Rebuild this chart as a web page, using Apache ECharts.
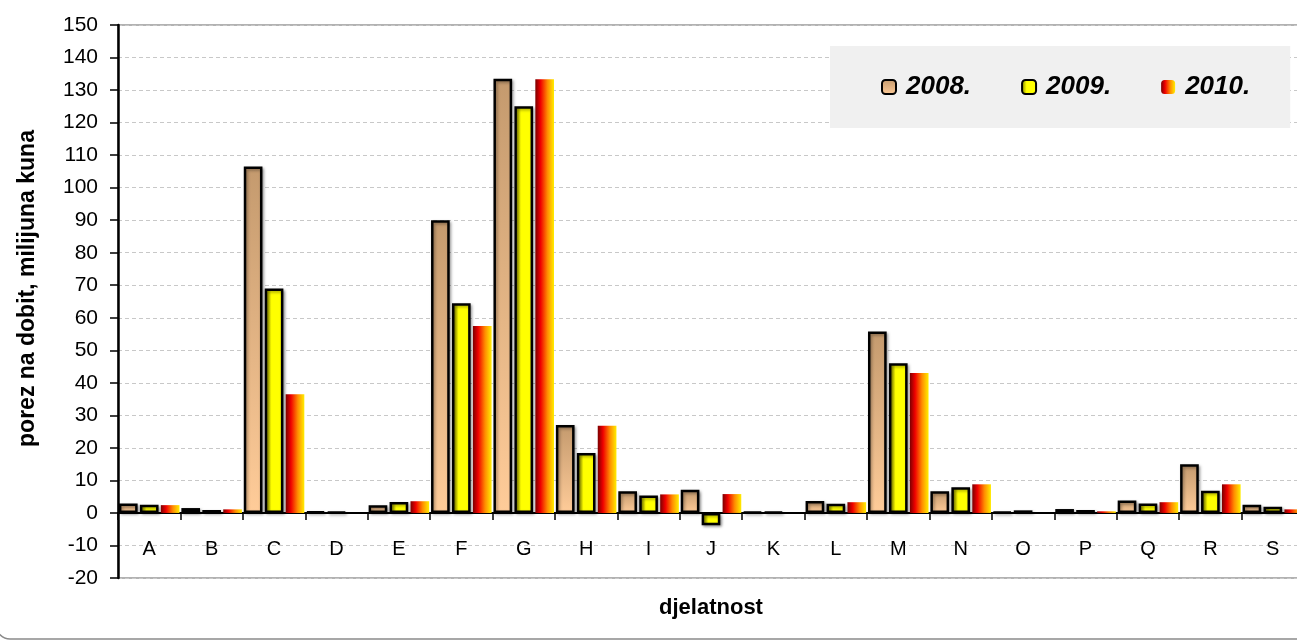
<!DOCTYPE html>
<html>
<head>
<meta charset="utf-8">
<script src="https://cdn.jsdelivr.net/npm/echarts@6/dist/echarts.min.js"></script>
<style>
html,body{margin:0;padding:0;background:#fff;}
#chart{width:1297px;height:640px;}
</style>
</head>
<body>
<div id="chart"></div>
<script>
const categories = ['A','B','C','D','E','F','G','H','I','J','K','L','M','N','O','P','Q','R','S'];
const seriesNames = ['2008.','2009.','2010.'];
const values2008 = [2.9,1.5,106.5,0.4,2.4,90,133.5,27,6.7,7.1,0.3,3.7,55.8,6.7,0.3,1.2,3.8,15,2.5];
const values2009 = [2.5,0.9,69,0.3,3.4,64.5,125,18.4,5.4,-3.8,0.3,2.8,46,7.9,0.8,0.9,2.9,6.8,1.9];
const values2010 = [2.4,1.1,36.5,0,3.6,57.5,133.3,26.8,5.7,5.8,0,3.3,43,8.8,0,0.5,3.3,8.8,1.1];
const yTicks = {min:-20, max:150, interval:10};

const FONT = "'Liberation Sans', Arial, sans-serif";
const chart = echarts.init(document.getElementById('chart'));

const grad2008 = new echarts.graphic.LinearGradient(0,0,0,1,[
  {offset:0,color:'#c49a6e'},{offset:1,color:'#ffcc99'}]);
const grad2009 = new echarts.graphic.LinearGradient(0,0,1,0,[
  {offset:0,color:'#6f6f00'},{offset:0.35,color:'#ffff00'},{offset:0.85,color:'#ffff00'},{offset:1,color:'#e8e800'}]);
const grad2010 = new echarts.graphic.LinearGradient(0,0,1,0,[
  {offset:0,color:'#7a0000'},{offset:0.28,color:'#f00000'},{offset:0.65,color:'#ff8c00'},{offset:1,color:'#ffee00'}]);

const borderStyle = {borderColor:'#000',borderWidth:2.5,shadowColor:'rgba(0,0,0,0.35)',shadowBlur:3,shadowOffsetX:1.5,shadowOffsetY:1.5};

chart.setOption({
  animation:false,
  textStyle:{fontFamily:FONT},
  grid:{left:118,top:25,right:-7,bottom:62,show:true,borderColor:'#999',borderWidth:1.5,backgroundColor:'transparent',
        containLabel:false,outerBoundsMode:'none'},
  graphic:[{
    type:'rect',z:-10,
    shape:{x:-4,y:-40,width:1420,height:679,r:14},
    style:{fill:'none',stroke:'#8a8a8a',lineWidth:1.5}
  }],
  legend:{
    left:830,top:46,
    backgroundColor:'#f0f0f0',
    padding:[28,40,28,51],
    itemGap:50,itemWidth:14,itemHeight:14,
    textStyle:{fontFamily:FONT,fontSize:26,fontWeight:'bold',fontStyle:'italic',color:'#000',lineHeight:26,padding:[0,0,0,5]},
    data:seriesNames
  },
  xAxis:{
    type:'category',data:categories,
    name:'djelatnost',nameLocation:'middle',nameGap:19,
    nameTextStyle:{fontFamily:FONT,fontSize:22,fontWeight:'bold',color:'#000'},
    axisLine:{onZero:true,lineStyle:{color:'#000',width:2}},
    axisTick:{show:true,length:7,lineStyle:{color:'#000',width:1.5}},
    axisLabel:{margin:-39,fontSize:20,color:'#000',fontFamily:FONT},
    splitLine:{show:false}
  },
  yAxis:{
    type:'value',min:yTicks.min,max:yTicks.max,interval:yTicks.interval,
    name:'porez na dobit, milijuna kuna',nameLocation:'middle',nameGap:79,
    nameTextStyle:{fontFamily:FONT,fontSize:23,fontWeight:'bold',color:'#000',padding:[0,0,0,26]},
    axisLine:{show:true,lineStyle:{color:'#000',width:2.5}},
    axisTick:{show:true,length:8,lineStyle:{color:'#000',width:1.5}},
    axisLabel:{margin:20,fontSize:21,color:'#000',fontFamily:FONT},
    splitLine:{show:true,lineStyle:{color:'#c8c8c8',type:[4,3],width:1.2}}
  },
  series:[
    {name:seriesNames[0],type:'bar',data:values2008,barGap:'12%',barCategoryGap:'3%',
     itemStyle:Object.assign({color:grad2008},borderStyle)},
    {name:seriesNames[1],type:'bar',data:values2009,barGap:'12%',barCategoryGap:'3%',
     itemStyle:Object.assign({color:grad2009},borderStyle)},
    {name:seriesNames[2],type:'bar',data:values2010,barGap:'12%',barCategoryGap:'3%',
     itemStyle:{color:grad2010}}
  ]
});
</script>
</body>
</html>
